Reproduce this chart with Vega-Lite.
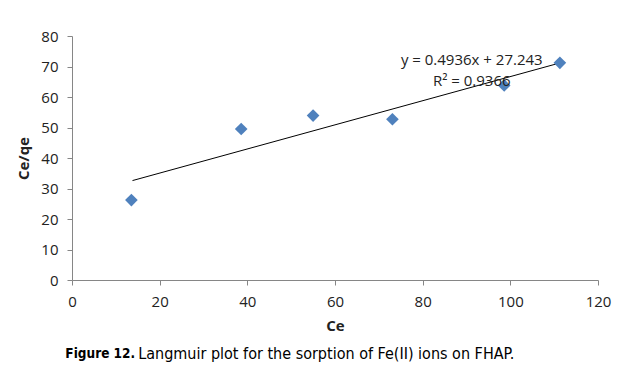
{
  "$schema": "https://vega.github.io/schema/vega-lite/v6.json",
  "width": 526,
  "height": 244,
  "autosize": {"type": "none"},
  "padding": {"left": 72, "top": 36, "right": 42, "bottom": 89},
  "background": "white",
  "config": {
    "view": {"stroke": null},
    "font": "Open Sans",
    "axis": {
      "grid": false, "domainColor": "#868686", "tickColor": "#868686",
      "tickSize": 5, "labelFontSize": 15, "labelColor": "#222",
      "titleFontSize": 15, "titleFontWeight": "bold", "titleColor": "#222"
    }
  },
  "datasets": {
    "points": [
      {"Ce": 13.55, "Ceqe": 26.2},
      {"Ce": 38.6, "Ceqe": 49.5},
      {"Ce": 55.0, "Ceqe": 53.9},
      {"Ce": 73.1, "Ceqe": 52.7},
      {"Ce": 98.6, "Ceqe": 63.8},
      {"Ce": 111.3, "Ceqe": 71.2}
    ],
    "trend": [
      {"Ce": 13.8, "Ceqe": 32.6},
      {"Ce": 110.9, "Ceqe": 71.0}
    ]
  },
  "encoding": {
    "x": {
      "field": "Ce", "type": "quantitative",
      "scale": {"domain": [0, 120], "nice": false},
      "axis": {"values": [0, 20, 40, 60, 80, 100, 120], "labelOverlap": false, "labelFlush": false, "labelBound": false, "labelPadding": 9, "title": "Ce", "titlePadding": 9}
    },
    "y": {
      "field": "Ceqe", "type": "quantitative",
      "scale": {"domain": [0, 80], "nice": false},
      "axis": {"values": [0, 10, 20, 30, 40, 50, 60, 70, 80], "labelOverlap": false, "labelFlush": false, "labelBound": false, "labelPadding": 9, "title": "Ce/qe", "titlePadding": 9}
    }
  },
  "layer": [
    {
      "data": {"name": "trend"},
      "mark": {"type": "line", "color": "black", "strokeWidth": 1}
    },
    {
      "data": {"name": "points"},
      "mark": {"type": "point", "shape": "diamond", "filled": true, "color": "#4F81BD", "size": 160, "opacity": 1}
    },
    {
      "data": {"values": [{"t": "y = 0.4936x + 27.243", "Ce": 91.2, "Ceqe": 72.1}, {"t": "R² = 0.9366", "Ce": 91.2, "Ceqe": 65.2}]},
      "mark": {"type": "text", "fontSize": 15, "color": "#222", "align": "center", "baseline": "middle"},
      "encoding": {"text": {"field": "t"}}
    },
    {
      "data": {"values": [{"t": "Figure 12.", "Ce": 14.4, "Ceqe": -24.3}]},
      "mark": {"type": "text", "fontSize": 13.5, "font": "DejaVu Sans Condensed", "fontWeight": "bold", "color": "black", "align": "right", "baseline": "middle", "clip": false},
      "encoding": {"text": {"field": "t"}}
    },
    {
      "data": {"values": [{"t": "Langmuir plot for the sorption of Fe(II) ions on FHAP.", "Ce": 15.1, "Ceqe": -24.3}]},
      "mark": {"type": "text", "fontSize": 16, "font": "DejaVu Sans Condensed", "color": "black", "align": "left", "baseline": "middle", "clip": false},
      "encoding": {"text": {"field": "t"}}
    }
  ]
}
